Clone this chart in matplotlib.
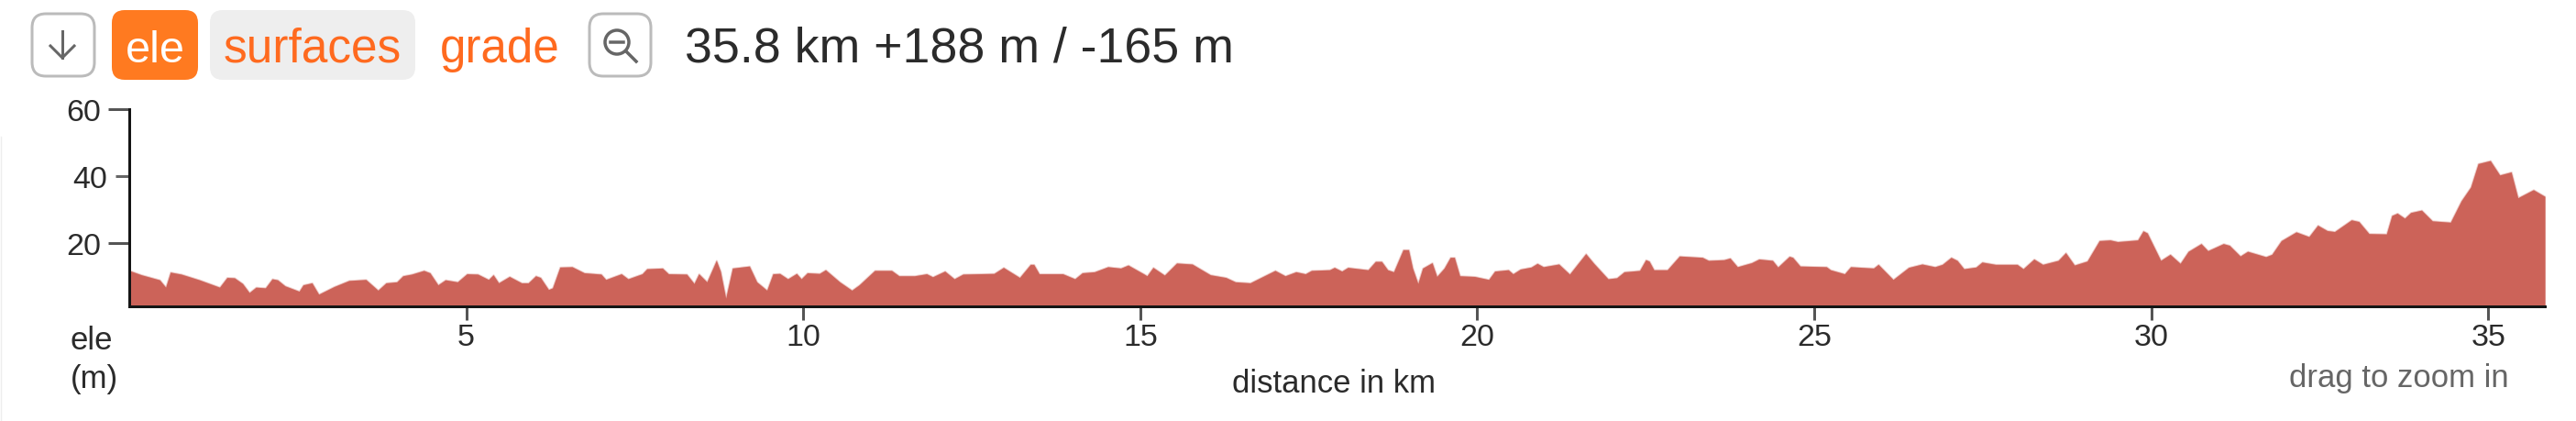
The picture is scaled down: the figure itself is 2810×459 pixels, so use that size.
import matplotlib
matplotlib.use('Agg')
import matplotlib.pyplot as plt
from matplotlib.lines import Line2D
from matplotlib.patches import Circle, FancyBboxPatch

plt.rcParams['font.family'] = ['Liberation Sans', 'DejaVu Sans']

# distance (km) and elevation (m)
km = [0, 0.18, 0.45, 0.54, 0.61, 0.77, 1.04, 1.34, 1.45, 1.56, 1.68, 1.78, 1.88, 2.02, 2.12, 2.2, 2.31, 2.52,
      2.58, 2.71, 2.81, 3.04, 3.26, 3.51, 3.69, 3.81, 3.97, 4.06, 4.19, 4.37, 4.46, 4.58, 4.69, 4.87, 5.01, 5.17,
      5.33, 5.4, 5.48, 5.64, 5.82, 5.92, 6.03, 6.1, 6.22, 6.28, 6.39, 6.57, 6.75, 7.0, 7.07, 7.3, 7.4, 7.61,
      7.68, 7.91, 8.0, 8.27, 8.38, 8.45, 8.57, 8.71, 8.77, 8.85, 8.95, 9.2, 9.31, 9.46, 9.55, 9.65, 9.77, 9.9,
      9.97, 10.06, 10.24, 10.33, 10.54, 10.72, 10.83, 11.06, 11.31, 11.42, 11.65, 11.83, 11.92, 12.1, 12.24, 12.37, 12.83, 12.97,
      13.21, 13.37, 13.42, 13.5, 13.85, 14.03, 14.14, 14.32, 14.52, 14.71, 14.82, 15.05, 15.1, 15.19, 15.36, 15.54, 15.77, 16.04,
      16.27, 16.41, 16.63, 16.81, 17.0, 17.15, 17.31, 17.45, 17.54, 17.81, 17.88, 17.99, 18.08, 18.38, 18.49, 18.58, 18.67, 18.76,
      18.9, 18.98, 19.04, 19.12, 19.19, 19.33, 19.4, 19.51, 19.6, 19.66, 19.74, 19.96, 20.17, 20.26, 20.46, 20.53, 20.64, 20.8,
      20.89, 20.98, 21.21, 21.37, 21.61, 21.73, 21.94, 22.07, 22.18, 22.3, 22.41, 22.5, 22.55, 22.62, 22.82, 23.0, 23.34, 23.43,
      23.66, 23.75, 23.86, 24.07, 24.18, 24.38, 24.46, 24.63, 24.68, 24.79, 25.18, 25.24, 25.45, 25.54, 25.88, 25.95, 26.17, 26.4,
      26.6, 26.79, 26.9, 27.03, 27.12, 27.22, 27.4, 27.49, 27.69, 28.01, 28.1, 28.26, 28.39, 28.62, 28.73, 28.86, 29.05, 29.23,
      29.39, 29.5, 29.8, 29.88, 29.94, 30.14, 30.28, 30.43, 30.55, 30.74, 30.84, 31.07, 31.16, 31.32, 31.43, 31.7, 31.79, 31.93,
      32.15, 32.34, 32.47, 32.61, 32.72, 32.97, 33.08, 33.23, 33.49, 33.57, 33.65, 33.76, 33.85, 34.01, 34.17, 34.44, 34.6, 34.74,
      34.85, 35.03, 35.17, 35.34, 35.44, 35.67, 35.84]
ele = [11.7, 10.4, 8.9, 6.7, 11.2, 10.6, 8.9, 6.7, 9.6, 9.5, 7.8, 5.1, 6.7, 6.5, 9.2, 8.9, 7.1, 5.5,
       7.4, 8.0, 4.6, 6.9, 8.7, 9.0, 5.8, 8.0, 8.3, 10.1, 10.6, 11.7, 11.0, 7.4, 8.9, 8.3, 10.7, 10.6,
       9.0, 10.4, 8.0, 9.9, 8.0, 8.0, 10.1, 9.6, 6.0, 6.5, 12.7, 12.8, 11.0, 10.6, 9.0, 10.7, 9.2, 10.7,
       12.2, 12.4, 10.7, 10.6, 7.8, 10.7, 8.3, 14.7, 11.5, 3.4, 12.4, 13.0, 8.3, 5.8, 10.7, 10.8, 9.2, 10.8,
       9.2, 11.0, 10.8, 11.9, 8.3, 5.8, 7.4, 11.7, 11.7, 10.1, 10.1, 10.7, 9.8, 11.5, 9.2, 10.6, 10.8, 12.6,
       9.6, 13.5, 13.5, 10.7, 10.7, 9.2, 11.0, 11.3, 12.8, 12.4, 13.3, 10.7, 10.1, 12.6, 10.3, 13.9, 13.6, 10.4,
       9.6, 8.3, 8.0, 9.8, 11.7, 10.1, 11.3, 10.7, 11.7, 11.9, 12.6, 11.5, 12.6, 11.9, 14.4, 14.4, 11.9, 11.3,
       17.9, 17.9, 12.4, 7.8, 12.4, 14.0, 9.9, 12.4, 15.6, 15.6, 10.1, 9.9, 9.0, 11.5, 11.9, 10.7, 12.1, 12.7,
       13.8, 12.8, 13.6, 10.6, 16.7, 13.8, 9.2, 9.5, 11.3, 11.5, 11.7, 14.9, 14.5, 11.9, 11.9, 16.0, 15.6, 14.7,
       14.9, 15.4, 12.8, 14.0, 15.1, 14.7, 12.7, 15.9, 15.6, 13.0, 12.8, 11.9, 10.7, 12.8, 12.4, 13.5, 9.0, 12.6,
       13.6, 12.8, 13.5, 15.6, 14.7, 12.2, 12.7, 14.2, 13.5, 13.5, 12.2, 15.1, 13.5, 14.7, 17.0, 13.3, 14.5, 20.6,
       20.8, 20.3, 20.8, 23.5, 22.9, 14.7, 16.5, 13.8, 17.4, 19.7, 17.6, 19.7, 19.2, 16.0, 17.4, 15.8, 16.5, 20.6,
       23.2, 21.8, 25.2, 23.6, 23.3, 26.8, 26.3, 22.7, 22.6, 28.1, 28.8, 27.3, 29.0, 29.7, 26.5, 26.1, 32.5, 36.6,
       43.6, 44.5, 40.2, 41.1, 33.4, 35.8, 33.8]

x_ticks = [5, 10, 15, 20, 25, 30, 35]
y_ticks = [20, 60]
y_tick_short = [40]

W, H = 2810, 460
px = 72 / 100  # one pixel in points at dpi 100

fig = plt.figure(figsize=(W / 100, H / 100), dpi=100, facecolor='white')

# elevation chart, the wide pale edge softens the outline like the reference
ax = fig.add_axes([141 / W, 1 - 335 / H, (2776 - 141) / W, (335 - 119.5) / H])
ax.fill_between(km, ele, 0, color='#CC6359', alpha=0.35, linewidth=2 * px, zorder=1)
ax.fill_between(km, ele, 0, color='#CC6359', linewidth=0, zorder=2)
ax.set_xlim(0, 35.84)
ax.set_ylim(1, 60)
ax.set_xticks(x_ticks)
ax.set_yticks(y_ticks)
ax.set_yticks(y_tick_short, minor=True)
ax.set_yticklabels([str(v) for v in y_tick_short], minor=True)
ax.spines['top'].set_visible(False)
ax.spines['right'].set_visible(False)
for side in ['left', 'bottom']:
    ax.spines[side].set_linewidth(3 * px)
    ax.spines[side].set_color('#151515')
    ax.spines[side].set_zorder(5)
ax.tick_params(axis='x', length=15 * px, width=3 * px, color='#555555', labelsize=24.5,
               labelcolor='#2b2b2b', pad=3 * px)
ax.tick_params(axis='y', which='major', length=23 * px, width=3 * px, color='#555555', labelsize=24.5,
               labelcolor='#2b2b2b', pad=8 * px)
ax.tick_params(axis='y', which='minor', length=15 * px, width=3 * px, color='#666666', labelsize=24.5,
               labelcolor='#2b2b2b', pad=9 * px)

# page layer in pixel coordinates for the buttons and captions
ui = fig.add_axes([0, 0, 1, 1], zorder=10)
ui.set_xlim(0, W)
ui.set_ylim(H, 0)
ui.axis('off')
ui.patch.set_alpha(0)


def button(x0, y0, x1, y1, r, face, edge='none', lw=0):
    ui.add_patch(FancyBboxPatch((x0 + r, y0 + r), x1 - x0 - 2 * r, y1 - y0 - 2 * r,
                                boxstyle=f'round,pad={r},rounding_size={r}',
                                facecolor=face, edgecolor=edge, linewidth=lw))


orange = '#FF6A1F'
grey_icon = '#666666'

button(35, 16, 103, 84, 15, 'white', '#BBBBBB', 3 * px)
button(122, 12, 216, 88, 14, '#FF7A20')
button(229, 12, 453, 88, 14, '#EEEEEE')
button(643, 16, 710, 84, 15, 'white', '#BBBBBB', 3 * px)

# arrow icon
ui.add_line(Line2D([68, 68], [35, 64], color=grey_icon, lw=3 * px))
ui.add_line(Line2D([55, 68, 81], [51, 64, 51], color=grey_icon, lw=3 * px))

# zoom-out icon
ui.add_patch(Circle((673, 47), 13, facecolor='none', edgecolor=grey_icon, linewidth=3.5 * px))
ui.add_line(Line2D([666, 680], [47, 47], color=grey_icon, lw=3.5 * px))
ui.add_line(Line2D([683, 694], [57, 68], color=grey_icon, lw=3.5 * px))

ui.text(137, 68, 'ele', color='white', fontsize=35, va='baseline')
ui.text(244, 68, 'surfaces', color=orange, fontsize=37, va='baseline')
ui.text(480, 68, 'grade', color=orange, fontsize=36.8, va='baseline')
ui.text(747, 68, '35.8 km +188 m / -165 m', color='#2b2b2b', fontsize=38.7, va='baseline')

ui.text(77, 381, 'ele', color='#2b2b2b', fontsize=25, va='baseline')
ui.text(77, 423, '(m)', color='#2b2b2b', fontsize=25, va='baseline')
ui.text(1344, 428, 'distance in km', color='#2b2b2b', fontsize=25, va='baseline')
ui.text(2497, 422, 'drag to zoom in', color='#666666', fontsize=25, va='baseline')

# faint page edge at the left
ui.add_line(Line2D([0.5, 0.5], [150, 460], color='#EEEEEE', lw=1))

fig.savefig('out.png', dpi=100)
